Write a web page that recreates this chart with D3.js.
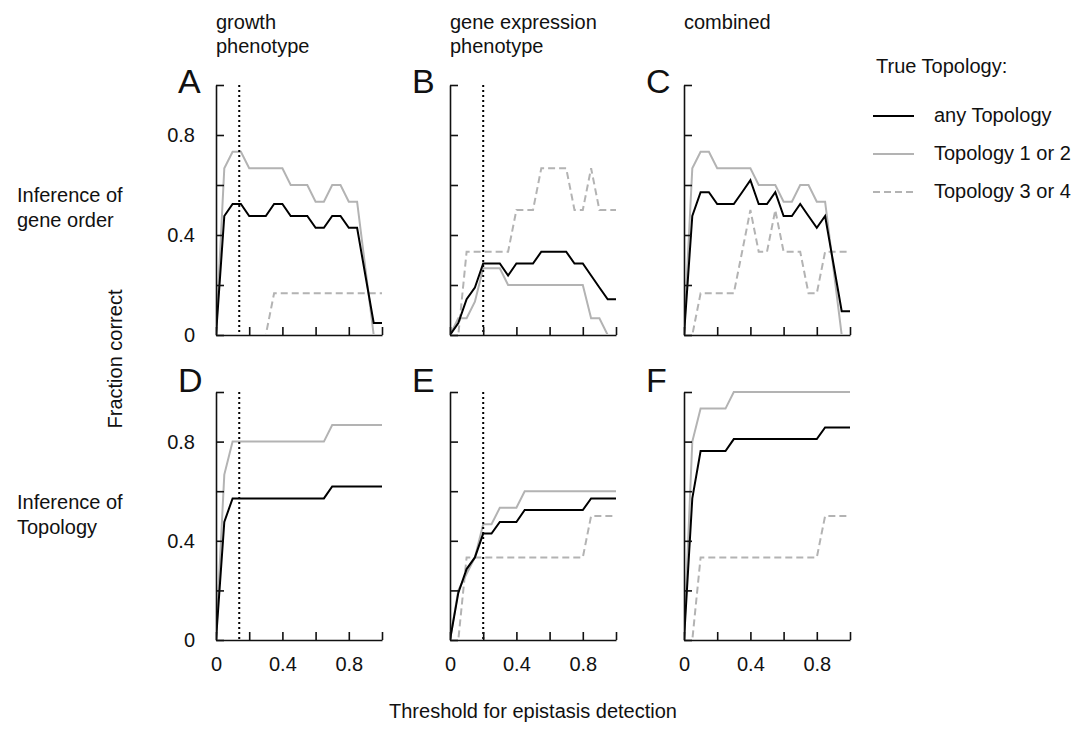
<!DOCTYPE html>
<html>
<head>
<meta charset="utf-8">
<script src="https://cdnjs.cloudflare.com/ajax/libs/d3/7.8.5/d3.min.js"></script>
<style>
  body { margin: 0; background: #fff; }
  text { font-family: "Liberation Sans", Arial, sans-serif; fill: #111; }
</style>
</head>
<body>
<script>
// thresholds used on the x axis (one point per threshold)
var thresholds = [0, 0.05, 0.1, 0.15, 0.2, 0.25, 0.3, 0.35, 0.4, 0.45, 0.5,
                  0.55, 0.6, 0.65, 0.7, 0.75, 0.8, 0.85, 0.9, 0.95, 1];

// row 1: inference of gene order
var anyA   = [0, .476, .524, .524, .476, .476, .476, .524, .524, .476, .476, .476, .429, .429, .476, .476, .429, .429, .238, .048, .048];
var top12A = [0, .667, .733, .733, .667, .667, .667, .667, .667, .6, .6, .6, .533, .533, .6, .6, .533, .533, .267, 0, 0];
var top34A = [0, 0, 0, 0, 0, 0, 0, .167, .167, .167, .167, .167, .167, .167, .167, .167, .167, .167, .167, .167, .167];

var anyB   = [0, .048, .143, .19, .286, .286, .286, .238, .286, .286, .286, .333, .333, .333, .333, .286, .286, .238, .19, .143, .143];
var top12B = [0, .067, .067, .133, .267, .267, .267, .2, .2, .2, .2, .2, .2, .2, .2, .2, .2, .067, .067, 0, 0];
var top34B = [0, 0, .333, .333, .333, .333, .333, .333, .5, .5, .5, .667, .667, .667, .667, .5, .5, .667, .5, .5, .5];

var anyC   = [0, .476, .571, .571, .524, .524, .524, .571, .619, .524, .524, .571, .476, .476, .524, .476, .429, .476, .286, .095, .095];
var top12C = [0, .667, .733, .733, .667, .667, .667, .667, .667, .6, .6, .6, .533, .533, .6, .6, .533, .533, .267, 0, 0];
var top34C = [0, 0, .167, .167, .167, .167, .167, .333, .5, .333, .333, .5, .333, .333, .333, .167, .167, .333, .333, .333, .333];

// row 2: inference of topology
var anyD   = [0, .476, .571, .571, .571, .571, .571, .571, .571, .571, .571, .571, .571, .571, .619, .619, .619, .619, .619, .619, .619];
var top12D = [0, .667, .8, .8, .8, .8, .8, .8, .8, .8, .8, .8, .8, .8, .867, .867, .867, .867, .867, .867, .867];
var top34D = [0, 0, 0, 0, 0, 0, 0, 0, 0, 0, 0, 0, 0, 0, 0, 0, 0, 0, 0, 0, 0];

var anyE   = [0, .19, .286, .333, .429, .429, .476, .476, .476, .524, .524, .524, .524, .524, .524, .524, .524, .571, .571, .571, .571];
var top12E = [0, .2, .267, .333, .467, .467, .533, .533, .533, .6, .6, .6, .6, .6, .6, .6, .6, .6, .6, .6, .6];
var top34E = [0, 0, .333, .333, .333, .333, .333, .333, .333, .333, .333, .333, .333, .333, .333, .333, .333, .5, .5, .5, .5];

var anyF   = [0, .571, .762, .762, .762, .762, .81, .81, .81, .81, .81, .81, .81, .81, .81, .81, .81, .857, .857, .857, .857];
var top12F = [0, .8, .933, .933, .933, .933, 1, 1, 1, 1, 1, 1, 1, 1, 1, 1, 1, 1, 1, 1, 1];
var top34F = [0, 0, .333, .333, .333, .333, .333, .333, .333, .333, .333, .333, .333, .333, .333, .333, .333, .5, .5, .5, .5];

var colTitles = [["growth", "phenotype"], ["gene expression", "phenotype"], ["combined"]];
var rowTitles = [["Inference of", "gene order"], ["Inference of", "Topology"]];
var panelLetters = ["A", "B", "C", "D", "E", "F"];
var cutoffs = [0.14, 0.2, null];   // dotted threshold line per column
var yTicks = [0, 0.2, 0.4, 0.6, 0.8, 1];
var xTicks = [0, 0.2, 0.4, 0.6, 0.8, 1];
var labelledTicks = [0, 0.4, 0.8];
var legendLabels = ["any Topology", "Topology 1 or 2", "Topology 3 or 4"];

var width = 1079,
    height = 740,
    colLeft = [216, 450, 684],
    panelW = 166,
    rowTop = [85, 392],
    rowBottom = [335, 640],
    grey = "#b3b3b3";

var panels = [
  [anyA, top12A, top34A], [anyB, top12B, top34B], [anyC, top12C, top34C],
  [anyD, top12D, top34D], [anyE, top12E, top34E], [anyF, top12F, top34F]
];

var svg = d3.select("body").append("svg")
    .attr("width", width)
    .attr("height", height);

var defs = svg.append("defs");

// column headers
colTitles.forEach(function(lines, c) {
  lines.forEach(function(t, k) {
    svg.append("text")
      .attr("x", colLeft[c])
      .attr("y", 29 + k * 24)
      .attr("font-size", 20)
      .text(t);
  });
});

// row headers
rowTitles.forEach(function(lines, r) {
  var base = r === 0 ? 202 : 509;
  lines.forEach(function(t, k) {
    svg.append("text")
      .attr("x", 17)
      .attr("y", base + k * 25)
      .attr("font-size", 20)
      .text(t);
  });
});

panels.forEach(function(series, p) {
  var c = p % 3, r = Math.floor(p / 3);

  var x = d3.scaleLinear().domain([0, 1]).range([colLeft[c], colLeft[c] + panelW]),
      y = d3.scaleLinear().domain([0, 1]).range([rowBottom[r], rowTop[r]]);

  // clip so that values sitting on 0 hide under the x axis, like the original
  defs.append("clipPath").attr("id", "clip" + p)
    .append("rect")
      .attr("x", colLeft[c] + 0.5)
      .attr("y", rowTop[r] - 5)
      .attr("width", panelW + 5)
      .attr("height", rowBottom[r] - rowTop[r] + 4);

  var g = svg.append("g");
  var plot = g.append("g").attr("clip-path", "url(#clip" + p + ")");

  var line = d3.line()
    .x(function(d, i) { return x(thresholds[i]); })
    .y(function(d) { return y(d); });

  // dashed grey first, then grey, then black on top
  plot.append("path").datum(series[2])
    .attr("d", line).attr("fill", "none")
    .attr("stroke", grey).attr("stroke-width", 2)
    .attr("stroke-dasharray", "7,4");
  plot.append("path").datum(series[1])
    .attr("d", line).attr("fill", "none")
    .attr("stroke", grey).attr("stroke-width", 2);
  plot.append("path").datum(series[0])
    .attr("d", line).attr("fill", "none")
    .attr("stroke", "#000").attr("stroke-width", 2);

  if (cutoffs[c] !== null) {
    g.append("line")
      .attr("x1", x(cutoffs[c])).attr("x2", x(cutoffs[c]))
      .attr("y1", rowTop[r]).attr("y2", rowBottom[r])
      .attr("stroke", "#000").attr("stroke-width", 2)
      .attr("stroke-dasharray", "2,3");
  }

  // axes, ticks pointing inwards
  var yAxis = d3.axisLeft(y)
    .tickValues(yTicks)
    .tickSize(-8)
    .tickSizeOuter(0)
    .tickPadding(21)
    .tickFormat(function(d) { return (c === 0 && labelledTicks.indexOf(d) >= 0) ? String(d) : ""; });

  var xAxis = d3.axisBottom(x)
    .tickValues(xTicks)
    .tickSize(-8)
    .tickSizeOuter(0)
    .tickPadding(17)
    .tickFormat(function(d) { return (r === 1 && labelledTicks.indexOf(d) >= 0) ? String(d) : ""; });

  var ya = g.append("g")
    .attr("transform", "translate(" + colLeft[c] + ",0)")
    .call(yAxis);
  var xa = g.append("g")
    .attr("transform", "translate(0," + rowBottom[r] + ")")
    .call(xAxis);

  [ya, xa].forEach(function(a) {
    a.attr("font-size", 20).attr("font-family", null);
    a.selectAll("path, line").attr("stroke", "#111").attr("stroke-width", 1.6);
    a.selectAll("text").attr("fill", "#111");
  });

  // panel letter
  svg.append("text")
    .attr("x", colLeft[c] - 38)
    .attr("y", r === 0 ? 93 : 392)
    .attr("font-size", 34)
    .text(panelLetters[p]);
});

// shared axis titles
svg.append("text")
  .attr("transform", "translate(122,359)rotate(-90)")
  .attr("text-anchor", "middle")
  .attr("font-size", 20)
  .text("Fraction correct");

svg.append("text")
  .attr("x", (colLeft[0] + colLeft[2] + panelW) / 2)
  .attr("y", 718)
  .attr("text-anchor", "middle")
  .attr("font-size", 20)
  .text("Threshold for epistasis detection");

// legend
var legend = svg.append("g");
legend.append("text")
  .attr("x", 876).attr("y", 73)
  .attr("font-size", 20)
  .text("True Topology:");

var legendY = [116, 154, 192],
    legendStroke = ["#000", grey, grey],
    legendDash = [null, null, "7,4"];

legendLabels.forEach(function(lbl, i) {
  legend.append("line")
    .attr("x1", 873).attr("x2", 914)
    .attr("y1", legendY[i]).attr("y2", legendY[i])
    .attr("stroke", legendStroke[i]).attr("stroke-width", 2)
    .attr("stroke-dasharray", legendDash[i]);
  legend.append("text")
    .attr("x", 934).attr("y", legendY[i] + 6)
    .attr("font-size", 20)
    .text(lbl);
});
</script>
</body>
</html>
